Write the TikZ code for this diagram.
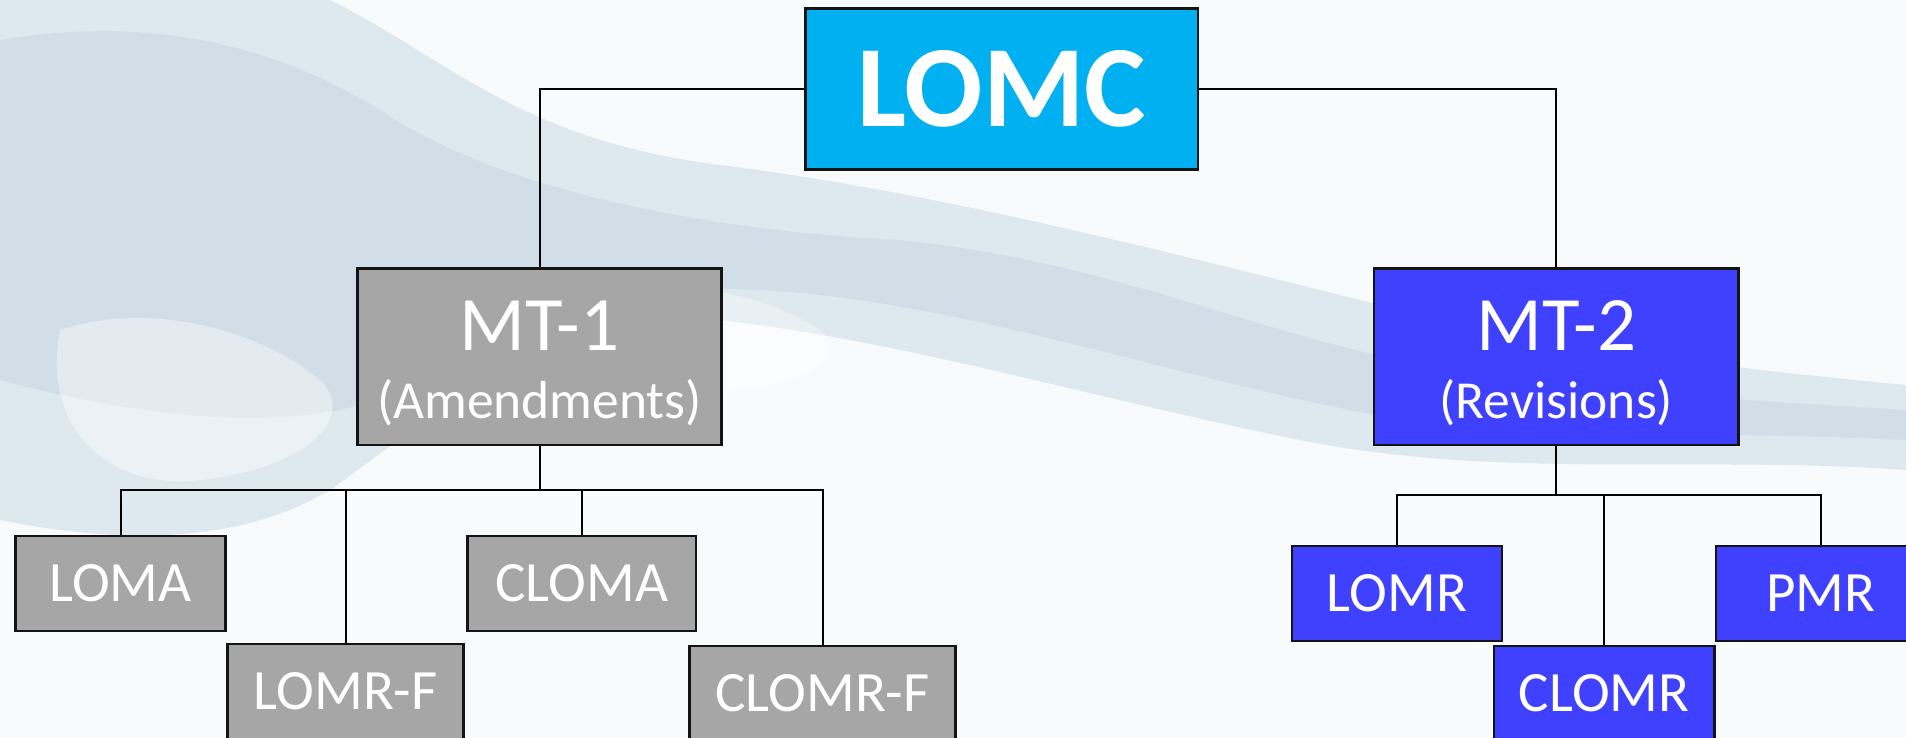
\documentclass[tikz,border=0pt]{standalone}
\usepackage{fontspec}
\setmainfont{Carlito}
\definecolor{bgbase}{RGB}{248,251,252}
\definecolor{wave}{RGB}{222,232,239}
\definecolor{wavedark}{RGB}{200,214,224}
\definecolor{lomccol}{RGB}{0,176,240}
\definecolor{graycol}{RGB}{166,166,166}
\definecolor{bluecol}{RGB}{64,64,255}
\definecolor{edgecol}{RGB}{20,20,20}
\tikzset{
  box/.style={draw=edgecol, line width=2.5pt, inner sep=0pt, text=white, anchor=center},
  leaf/.style={box, minimum height=94.7pt, font=\fontsize{57}{60}\selectfont},
  graybox/.style={fill=graycol},
  bluebox/.style={fill=bluecol},
  conn/.style={draw=black, line width=2pt},
  bigtxt/.style={text=white, anchor=base, inner sep=0pt, font=\fontsize{77}{80}\selectfont},
  subtxt/.style={text=white, anchor=base, inner sep=0pt, font=\fontsize{53.5}{56}\selectfont}
}
\begin{document}
\begin{tikzpicture}[x=1pt,y=-1pt]
\useasboundingbox (0,0) rectangle (1906,737);
% background (water splash, approximated)
\fill[bgbase] (0,0) rectangle (1906,737);
\fill[wave] (0,0) -- (330,0) .. controls (450,60) and (520,140) .. (720,165)
  .. controls (920,190) and (1120,240) .. (1360,300) .. controls (1560,350) and (1750,370) .. (1906,385)
  -- (1906,470) .. controls (1700,455) and (1500,480) .. (1300,440)
  .. controls (1100,400) and (900,340) .. (720,320) .. controls (560,300) and (430,420) .. (330,490)
  .. controls (230,550) and (100,540) .. (0,520) -- cycle;
\fill[wavedark, opacity=0.5] (0,40) .. controls (120,20) and (250,30) .. (380,110)
  .. controls (500,190) and (700,230) .. (900,240) .. controls (1100,260) and (1250,330) .. (1400,360)
  .. controls (1550,390) and (1750,400) .. (1906,410) -- (1906,440)
  .. controls (1700,430) and (1500,440) .. (1350,410) .. controls (1150,370) and (950,300) .. (760,290)
  .. controls (600,280) and (500,330) .. (420,380) .. controls (320,440) and (150,420) .. (0,380) -- cycle;
\fill[white, opacity=0.4] (60,330) .. controls (150,300) and (260,330) .. (320,380)
  .. controls (360,420) and (300,470) .. (200,480) .. controls (120,490) and (40,440) .. (60,330) -- cycle;
\fill[white, opacity=0.35] (560,300) .. controls (650,270) and (760,290) .. (820,330)
  .. controls (860,370) and (760,400) .. (660,390) .. controls (580,380) and (520,340) .. (560,300) -- cycle;

% nodes
\node[box, fill=lomccol, minimum width=392.7pt, minimum height=161pt,
      font=\fontsize{116}{120}\selectfont\bfseries] (lomc) at (1001.7,88.8) {LOMC};
\node[box, graybox, minimum width=364.4pt, minimum height=176.7pt] (mt1) at (539.5,356.7) {};
\node[box, bluebox, minimum width=364.7pt, minimum height=176.7pt] (mt2) at (1556.3,356.7) {};
\node[bigtxt] (mt1a) at (539.5,350) {MT-1};
\node[subtxt] (mt1b) at (539.5,418) {(Amendments)};
\node[bigtxt] (mt2a) at (1556.3,350) {MT-2};
\node[subtxt] (mt2b) at (1556.3,418) {(Revisions)};

\node[leaf, graybox, minimum width=210.4pt] (loma) at (120.5,583.4) {LOMA};
\node[leaf, graybox, minimum width=228.7pt] (cloma) at (581.7,583.4) {CLOMA};
\node[leaf, graybox, minimum width=236pt] (lomrf) at (345.7,691.4) {LOMR-F};
\node[leaf, graybox, minimum width=266.4pt] (clomrf) at (822.5,693.4) {CLOMR-F};
\node[leaf, bluebox, minimum width=210pt] (lomr) at (1397,593.4) {LOMR};
\node[leaf, bluebox, minimum width=220.3pt] (clomr) at (1604.2,693.4) {CLOMR};
\node[leaf, bluebox, minimum width=210pt] (pmr) at (1821,593.4) {PMR};

% connectors
\draw[conn] (lomc.west) -| (mt1.north);
\draw[conn] (lomc.east) -| (mt2.north);
\coordinate (bus1) at (539.5,490);
\coordinate (bus2) at (1556.3,495.3);
\foreach \c in {loma,lomrf,cloma,clomrf}{
  \draw[conn] (mt1.south) -- (bus1) -| (\c.north);
}
\foreach \c in {lomr,clomr,pmr}{
  \draw[conn] (mt2.south) -- (bus2) -| (\c.north);
}
\end{tikzpicture}
\end{document}
